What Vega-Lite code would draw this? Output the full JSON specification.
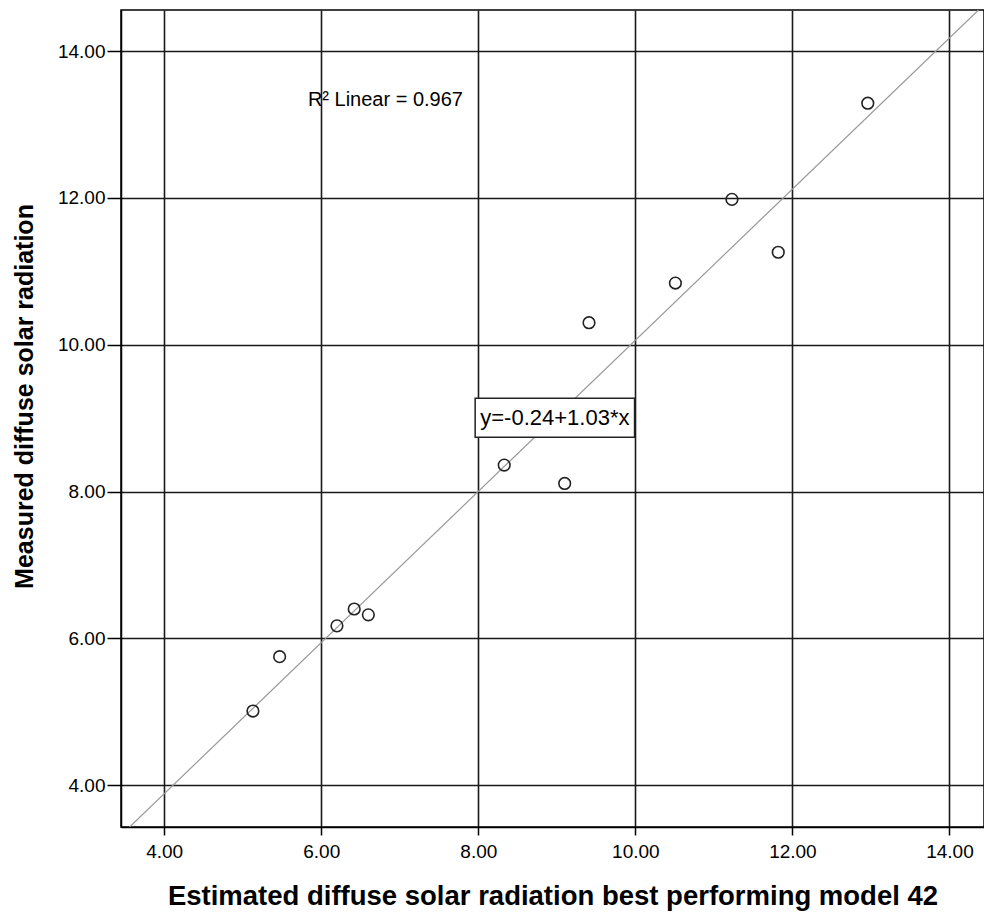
{
  "$schema": "https://vega.github.io/schema/vega-lite/v6.json",
  "autosize": "none",
  "width": 863,
  "height": 817,
  "padding": {"left": 121, "top": 10, "right": 0, "bottom": 86},
  "background": "white",
  "config": {
    "view": {"stroke": "#000", "strokeWidth": 1.5}
  },
  "datasets": {
    "pts": [
      {"est": 12.96, "meas": 13.29},
      {"est": 11.23, "meas": 11.98},
      {"est": 11.82, "meas": 11.26},
      {"est": 10.51, "meas": 10.84},
      {"est": 9.41, "meas": 10.30},
      {"est": 8.33, "meas": 8.36},
      {"est": 9.10, "meas": 8.11},
      {"est": 6.42, "meas": 6.40},
      {"est": 6.60, "meas": 6.32},
      {"est": 6.20, "meas": 6.17},
      {"est": 5.47, "meas": 5.75},
      {"est": 5.13, "meas": 5.01}
    ],
    "fit": [
      {"est": 3.56, "meas": 3.43},
      {"est": 14.37, "meas": 14.56}
    ],
    "box": [
      {"x1": 7.96, "x2": 9.99, "y1": 8.74, "y2": 9.27, "xc": 8.975, "yc": 9.0, "label": "y=-0.24+1.03*x"}
    ],
    "r2": [
      {"est": 5.83, "meas": 13.33, "label": "R² Linear = 0.967"}
    ]
  },
  "layer": [
    {
      "data": {"name": "fit"},
      "mark": {"type": "line", "color": "#9a9a9a", "strokeWidth": 1.2, "clip": true},
      "encoding": {
        "x": {"field": "est", "type": "quantitative", "scale": {"domain": [3.45, 14.44], "nice": false, "zero": false},
          "axis": {"values": [4, 6, 8, 10, 12, 14], "format": ".2f", "title": "Estimated diffuse solar radiation best performing model 42",
            "grid": true, "gridColor": "#1a1a1a", "gridWidth": 1.6, "domainColor": "#000", "domainWidth": 1.5, "tickColor": "#000", "tickWidth": 1.5,
            "tickSize": 8, "labelPadding": 7, "labelFont": "Liberation Sans", "labelFontSize": 19, "labelColor": "#000",
            "titleFont": "Liberation Sans", "titleFontSize": 27.5, "titleFontWeight": "bold", "titleColor": "#000", "titlePadding": 21}},
        "y": {"field": "meas", "type": "quantitative", "scale": {"domain": [3.43, 14.56], "nice": false, "zero": false},
          "axis": {"values": [4, 6, 8, 10, 12, 14], "format": ".2f", "title": "Measured diffuse solar radiation",
            "grid": true, "gridColor": "#1a1a1a", "gridWidth": 1.6, "domainColor": "#000", "domainWidth": 1.5, "tickColor": "#000", "tickWidth": 1.5,
            "tickSize": 14, "labelPadding": 2, "labelFont": "Liberation Sans", "labelFontSize": 19, "labelColor": "#000",
            "titleFont": "Liberation Sans", "titleFontSize": 25, "titleFontWeight": "bold", "titleColor": "#000", "titlePadding": 20, "titleY": 386}}
      }
    },
    {
      "data": {"name": "pts"},
      "mark": {"type": "point", "shape": "circle", "filled": false, "stroke": "#222", "strokeWidth": 1.6, "size": 135, "opacity": 1},
      "encoding": {
        "x": {"field": "est", "type": "quantitative"},
        "y": {"field": "meas", "type": "quantitative"}
      }
    },
    {
      "data": {"name": "box"},
      "mark": {"type": "rect", "fill": "white", "stroke": "#222", "strokeWidth": 1.5},
      "encoding": {
        "x": {"field": "x1", "type": "quantitative"},
        "x2": {"field": "x2"},
        "y": {"field": "y1", "type": "quantitative"},
        "y2": {"field": "y2"}
      }
    },
    {
      "data": {"name": "box"},
      "mark": {"type": "text", "font": "Liberation Sans", "fontSize": 22, "color": "#000", "align": "center", "baseline": "middle"},
      "encoding": {
        "x": {"field": "xc", "type": "quantitative"},
        "y": {"field": "yc", "type": "quantitative"},
        "text": {"field": "label"}
      }
    },
    {
      "data": {"name": "r2"},
      "mark": {"type": "text", "font": "Liberation Sans", "fontSize": 20, "color": "#000", "align": "left", "baseline": "middle"},
      "encoding": {
        "x": {"field": "est", "type": "quantitative"},
        "y": {"field": "meas", "type": "quantitative"},
        "text": {"field": "label"}
      }
    }
  ]
}
